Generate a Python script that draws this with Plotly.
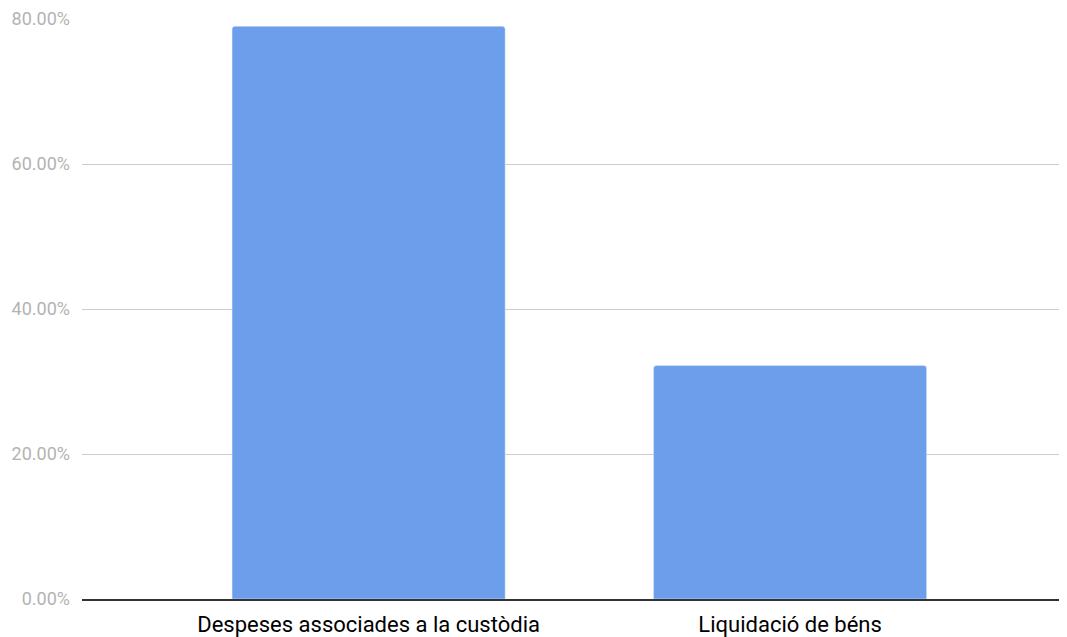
import plotly.graph_objects as go

categories = ['Despeses associades a la custòdia', 'Liquidació de béns']
values = [0.790, 0.322]
tick_vals = [0, 0.2, 0.4, 0.6, 0.8]

fig = go.Figure()
fig.add_trace(go.Bar(x=[0, 1], y=values, marker_color='#6d9eeb', width=0.648))

# page body adds 8px, so the figure is drawn shifted; the grid runs to the right edge
fig.update_layout(
    width=1067, height=629,
    margin=dict(l=74, r=0, t=11, b=38),
    plot_bgcolor='white', paper_bgcolor='white',
    font=dict(family='Roboto', size=18),
    showlegend=False,
    barcornerradius=3,
)
fig.update_xaxes(
    range=[-0.68, 1.676], tickvals=[0, 1], ticktext=categories,
    tickfont=dict(size=22, color='#000000'), showgrid=False,
    showline=True, linecolor='#333333', linewidth=2, ticklabelstandoff=5,
)
fig.update_yaxes(
    range=[0, 0.8], tickvals=tick_vals, tickformat='.2%',
    tickfont=dict(size=18, color='#b3b3b3'),
    gridcolor='#cccccc', gridwidth=1, zeroline=False, ticklabelstandoff=11,
)
fig.write_html('out.html')
